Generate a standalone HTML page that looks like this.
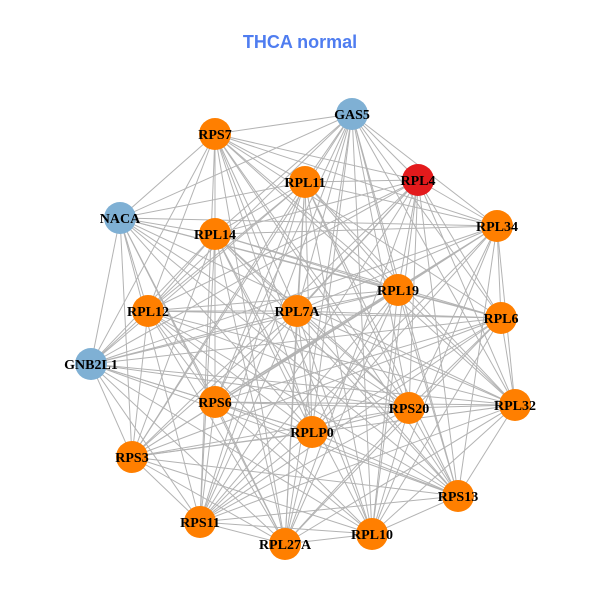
<!DOCTYPE html>
<html><head><meta charset="utf-8"><style>
html,body{margin:0;padding:0;background:#fff;}
svg{display:block;}
</style></head><body>
<svg id="g" width="600" height="600" xmlns="http://www.w3.org/2000/svg">
<rect width="600" height="600" fill="#fff"/>
<text x="300" y="48" text-anchor="middle" font-family="Liberation Sans, sans-serif" font-weight="bold" font-size="18" fill="#4f7df0">THCA normal</text>
<g id="edges" stroke="#b3b3b3" stroke-width="1"></g>
<g id="nodes"></g>
</svg>
<script>
var N=[
["GAS5",352,114,"#7fb0d4"],["RPS7",215,134,"#ff7f00"],["RPL11",305,182,"#ff7f00"],["RPL4",418,180,"#e31a1c"],
["NACA",120,218,"#7fb0d4"],["RPL14",215,234,"#ff7f00"],["RPL34",497,226,"#ff7f00"],["RPL19",398,290,"#ff7f00"],
["RPL12",148,311,"#ff7f00"],["RPL7A",297,311,"#ff7f00"],["RPL6",501,318,"#ff7f00"],["GNB2L1",91,364,"#7fb0d4"],
["RPS6",215,402,"#ff7f00"],["RPS20",409,408,"#ff7f00"],["RPL32",515,405,"#ff7f00"],["RPLP0",312,432,"#ff7f00"],
["RPS3",132,457,"#ff7f00"],["RPS13",458,496,"#ff7f00"],["RPS11",200,522,"#ff7f00"],["RPL27A",285,544,"#ff7f00"],
["RPL10",372,534,"#ff7f00"]];
var ns="http://www.w3.org/2000/svg",E=document.getElementById("edges"),G=document.getElementById("nodes");
for(var i=0;i<N.length;i++)for(var j=i+1;j<N.length;j++){
 if((i*7+j*3)%11==0)continue;
 var l=document.createElementNS(ns,"line");
 l.setAttribute("x1",N[i][1]);l.setAttribute("y1",N[i][2]);l.setAttribute("x2",N[j][1]);l.setAttribute("y2",N[j][2]);
 E.appendChild(l);}
N.forEach(function(n){
 var c=document.createElementNS(ns,"circle");c.setAttribute("cx",n[1]);c.setAttribute("cy",n[2]);c.setAttribute("r",16);c.setAttribute("fill",n[3]);G.appendChild(c);
});
N.forEach(function(n){
 var t=document.createElementNS(ns,"text");t.setAttribute("x",n[1]);t.setAttribute("y",n[2]+5);t.setAttribute("text-anchor","middle");
 t.setAttribute("font-family","Liberation Serif, serif");t.setAttribute("font-weight","bold");t.setAttribute("font-size","14");t.setAttribute("fill","#000");
 t.textContent=n[0];G.appendChild(t);
});
</script>
</body></html>
